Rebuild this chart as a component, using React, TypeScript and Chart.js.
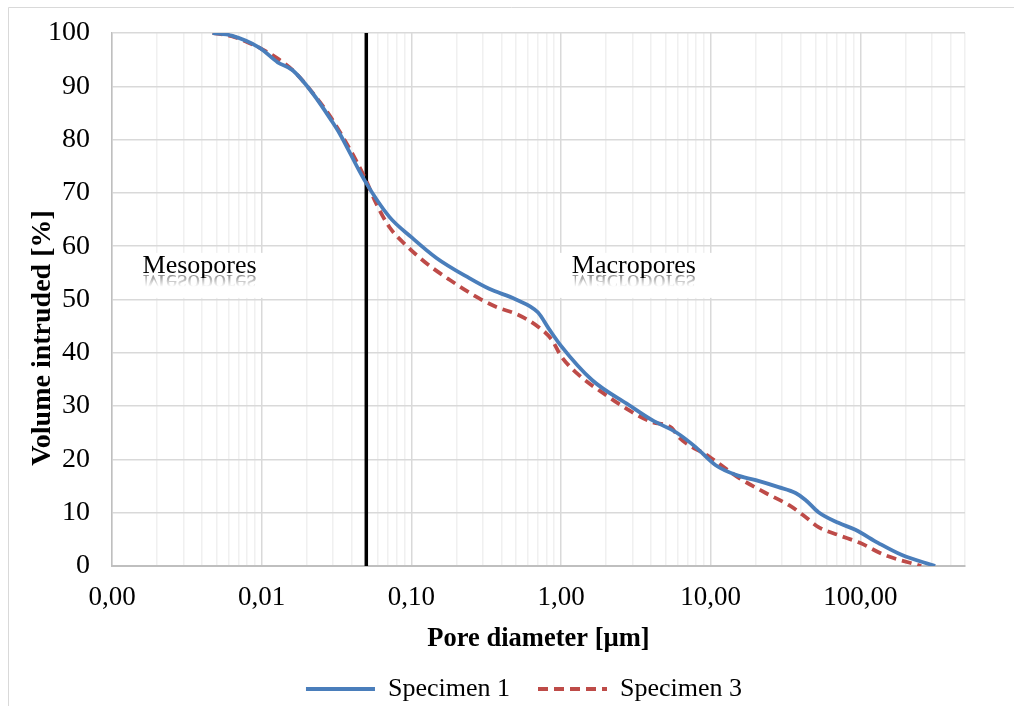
import React, { useEffect, useRef } from 'react';
import { Chart, registerables } from 'chart.js';

Chart.register(...registerables);

// ---- Data ----
const SPECIMEN_1_DIAMETER = [
  0.0047, 0.0063, 0.0097, 0.0128, 0.0161, 0.0219, 0.0297, 0.0331, 0.0486, 0.0713,
  0.1, 0.147, 0.244, 0.331, 0.5, 0.7, 0.83, 1.0, 1.61, 2.84, 4.04, 5.93, 7.94,
  10.8, 14.7, 20, 28.4, 36.9, 43, 52.5, 71.3, 92.6, 132, 188, 316,
];
const SPECIMEN_1_VOLUME = [
  100, 99.5, 97.2, 94.5, 93, 88.7, 83.3, 81.2, 72.4, 65.5,
  61.7, 57.8, 54.0, 52.0, 50.0, 47.6, 44.5, 41.3, 34.9, 30.2, 27.4, 25.0, 22.3,
  18.9, 17.1, 16.1, 14.8, 13.7, 12.4, 10.1, 8.1, 6.8, 4.3, 2.1, 0,
];
const SPECIMEN_3_DIAMETER = [
  0.0047, 0.0063, 0.0097, 0.0131, 0.0166, 0.0233, 0.0297, 0.0486, 0.058, 0.0713,
  0.092, 0.126, 0.18, 0.284, 0.37, 0.52, 0.71, 0.87, 1.0, 1.32, 1.99, 2.97, 4.04,
  5.5, 6.1, 9.8, 15.5, 23.3, 33.4, 43, 52.5, 71.3, 100, 144, 255,
];
const SPECIMEN_3_VOLUME = [
  100, 99.4, 97.2, 95.0, 92.7, 87.8, 83.7, 73.0, 68.1, 63.6,
  60.2, 56.8, 53.7, 50.2, 48.6, 47.1, 44.8, 42.4, 39.4, 35.8, 32.1, 28.9, 27.0,
  25.9, 24.2, 20.5, 16.5, 13.7, 11.4, 9.2, 7.3, 5.8, 4.3, 2.1, 0,
];
const BOUNDARY_DIAMETER = [0.05, 0.05];
const BOUNDARY_VOLUME = [0, 100];

const SERIES_LABELS = ['Specimen 1', 'Specimen 3'];
const X_MIN = 0.001;
const X_MAX = 500;
const X_DECADES = [0.001, 0.01, 0.1, 1, 10, 100];
const X_MINOR_MULTIPLIERS = [2, 3, 4, 5, 6, 7, 8, 9];
const Y_MIN = 0;
const Y_MAX = 100;
const Y_STEP = 10;
const X_TITLE = 'Pore diameter [µm]';
const Y_TITLE = 'Volume intruded [%]';
const REGION_LABELS = [
  { text: 'Mesopores', x: 0.0016, y: 55 },
  { text: 'Macropores', x: 1.18, y: 55 },
];

const FONT = "'Liberation Serif', 'Times New Roman', serif";

const toPoints = (xs: number[], ys: number[]) => xs.map((x, i) => ({ x, y: ys[i] }));
const isDecade = (v: number) => Math.abs(Math.log10(v) - Math.round(Math.log10(v))) < 1e-6;

const decorPlugin = {
  id: 'decor',
  beforeDraw(chart: any) {
    const ctx = chart.ctx;
    ctx.save();
    ctx.fillStyle = '#ffffff';
    ctx.fillRect(0, 0, chart.width, chart.height);
    ctx.strokeStyle = '#d9d9d9';
    ctx.lineWidth = 1;
    ctx.beginPath();
    ctx.moveTo(8.5, chart.height);
    ctx.lineTo(8.5, 7.5);
    ctx.lineTo(chart.width, 7.5);
    ctx.stroke();
    ctx.restore();
  },
  beforeDatasetsDraw(chart: any) {
    const ctx = chart.ctx;
    const xs = chart.scales.x;
    const ys = chart.scales.y;
    ctx.save();
    ctx.font = `26px ${FONT}`;
    ctx.textBaseline = 'alphabetic';
    ctx.textAlign = 'left';
    REGION_LABELS.forEach((lab) => {
      const px = xs.getPixelForValue(lab.x);
      const base = ys.getPixelForValue(lab.y);
      const w = ctx.measureText(lab.text).width;
      ctx.fillStyle = '#ffffff';
      ctx.fillRect(px - 16, base - 20, w + 32, 45);
      ctx.fillStyle = '#000000';
      ctx.fillText(lab.text, px, base);
      // reflection
      ctx.save();
      ctx.beginPath();
      ctx.rect(px - 2, base + 1, w + 4, 13);
      ctx.clip();
      ctx.translate(0, 2 * base + 2);
      ctx.scale(1, -1);
      const g = ctx.createLinearGradient(0, base, 0, base - 12);
      g.addColorStop(0, 'rgba(0,0,0,0.45)');
      g.addColorStop(1, 'rgba(0,0,0,0)');
      ctx.fillStyle = g;
      ctx.fillText(lab.text, px, base);
      ctx.restore();
    });
    ctx.restore();
  },
  afterDraw(chart: any) {
    const ctx = chart.ctx;
    ctx.save();
    ctx.translate(43, 338);
    ctx.rotate(-Math.PI / 2);
    ctx.font = `bold 28px ${FONT}`;
    ctx.fillStyle = '#000000';
    ctx.textAlign = 'center';
    ctx.textBaseline = 'middle';
    ctx.fillText(Y_TITLE, 0, 0);
    ctx.restore();
  },
};

export default function App() {
  const ref = useRef<HTMLCanvasElement | null>(null);

  useEffect(() => {
    if (!ref.current) return;
    const chart = new Chart(ref.current, {
      type: 'line',
      data: {
        datasets: [
          {
            label: SERIES_LABELS[0],
            data: toPoints(SPECIMEN_1_DIAMETER, SPECIMEN_1_VOLUME),
            borderColor: '#4A7EBB',
            backgroundColor: '#4A7EBB',
            borderWidth: 3.8,
            pointRadius: 0,
            cubicInterpolationMode: 'monotone',
            fill: false,
          },
          {
            label: SERIES_LABELS[1],
            data: toPoints(SPECIMEN_3_DIAMETER, SPECIMEN_3_VOLUME),
            borderColor: '#BE4B48',
            backgroundColor: '#BE4B48',
            borderWidth: 3.8,
            borderDash: [10, 6],
            pointRadius: 0,
            cubicInterpolationMode: 'monotone',
            fill: false,
          },
          {
            label: '',
            data: toPoints(BOUNDARY_DIAMETER, BOUNDARY_VOLUME),
            borderColor: '#000000',
            backgroundColor: '#000000',
            borderWidth: 3.5,
            pointRadius: 0,
            fill: false,
          },
        ],
      },
      options: {
        responsive: false,
        animation: false,
        events: [],
        layout: { padding: { left: 46, right: 12, top: 33, bottom: 0 } },
        scales: {
          x: {
            type: 'logarithmic',
            min: X_MIN,
            max: X_MAX,
            afterBuildTicks: (scale: any) => {
              const ticks: any[] = [];
              X_DECADES.forEach((d) => {
                ticks.push({ value: d, major: true });
                X_MINOR_MULTIPLIERS.forEach((m) => {
                  const v = d * m;
                  if (v <= X_MAX + 1e-9) ticks.push({ value: v, major: false });
                });
              });
              scale.ticks = ticks;
            },
            afterFit: (scale: any) => {
              scale.height = 82;
            },
            ticks: {
              autoSkip: false,
              maxRotation: 0,
              minRotation: 0,
              padding: 16,
              color: '#000000',
              font: { family: FONT, size: 27 },
              callback: (value: any) => {
                const v = Number(value);
                return isDecade(v) ? v.toFixed(2).replace('.', ',') : '';
              },
            },
            grid: {
              drawTicks: false,
              color: (c: any) => (c.tick && isDecade(c.tick.value) ? '#d9d9d9' : '#f0f0f0'),
              lineWidth: 1.5,
            },
            border: { color: '#bfbfbf', width: 2 },
            title: {
              display: true,
              text: X_TITLE,
              color: '#000000',
              font: { family: FONT, size: 26.5, weight: 'bold', lineHeight: 0.7 },
              padding: { top: 0, bottom: 0 },
            },
          },
          y: {
            type: 'linear',
            min: Y_MIN,
            max: Y_MAX,
            afterFit: (scale: any) => {
              scale.width = 66;
              scale.paddingTop = 10;
              scale.paddingBottom = 10;
            },
            ticks: {
              stepSize: Y_STEP,
              padding: 22,
              color: '#000000',
              font: { family: FONT, size: 28 },
            },
            grid: { drawTicks: false, color: '#d9d9d9', lineWidth: 1.5 },
            border: { color: '#bfbfbf', width: 1.5 },
          },
          // empty spacer on the right so the bottom legend sits where it does in the reference
          spacer: {
            type: 'linear',
            position: 'right',
            display: true,
            min: 0,
            max: 1,
            afterFit: (scale: any) => {
              scale.width = 37;
              scale.paddingTop = 0;
              scale.paddingBottom = 0;
            },
            ticks: { display: false },
            grid: { display: false, drawTicks: false },
            border: { display: false },
          },
        },
        plugins: {
          legend: {
            position: 'bottom',
            labels: {
              usePointStyle: true,
              pointStyle: 'line',
              pointStyleWidth: 69,
              padding: 28,
              color: '#000000',
              font: { family: FONT, size: 26 },
              generateLabels: (ch: any) =>
                (Chart as any).defaults.plugins.legend.labels
                  .generateLabels(ch)
                  .filter((item: any) => item.text !== '')
                  .map((item: any) => {
                    const ds: any = ch.data.datasets[item.datasetIndex];
                    return {
                      ...item,
                      pointStyle: 'line',
                      lineDash: ds.borderDash || [],
                      lineWidth: ds.borderWidth,
                      strokeStyle: ds.borderColor,
                      fillStyle: ds.borderColor,
                    };
                  }),
            },
          },
          tooltip: { enabled: false },
        },
      },
      plugins: [decorPlugin],
    } as any);
    return () => chart.destroy();
  }, []);

  return (
    <div
      style={{
        position: 'absolute',
        left: 0,
        top: 0,
        width: 1014,
        height: 706,
        overflow: 'hidden',
        background: '#fff',
      }}
    >
      <canvas ref={ref} width={1014} height={712} style={{ display: 'block', width: 1014, height: 712 }} />
    </div>
  );
}
